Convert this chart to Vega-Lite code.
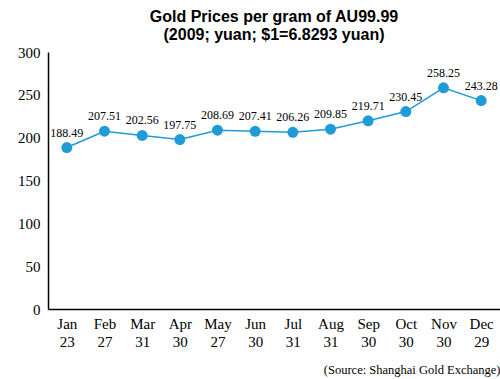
{
  "$schema": "https://vega.github.io/schema/vega-lite/v6.json",
  "width": 452,
  "height": 257,
  "autosize": {"type": "none"},
  "padding": {"left": 48, "top": 52, "right": 0, "bottom": 70},
  "background": "white",
  "title": {
    "text": ["Gold Prices per gram of AU99.99", "(2009; yuan; $1=6.8293 yuan)"],
    "font": "Liberation Sans",
    "fontSize": 16,
    "fontWeight": "bold",
    "color": "black",
    "lineHeight": 18,
    "anchor": "middle",
    "offset": 12,
    "baseline": "bottom",
    "dy": 26
  },
  "data": {
    "values": [
      {"date": "Jan|23", "price": 188.49},
      {"date": "Feb|27", "price": 207.51},
      {"date": "Mar|31", "price": 202.56},
      {"date": "Apr|30", "price": 197.75},
      {"date": "May|27", "price": 208.69},
      {"date": "Jun|30", "price": 207.41},
      {"date": "Jul|31", "price": 206.26},
      {"date": "Aug|31", "price": 209.85},
      {"date": "Sep|30", "price": 219.71},
      {"date": "Oct|30", "price": 230.45},
      {"date": "Nov|30", "price": 258.25},
      {"date": "Dec|29", "price": 243.28}
    ]
  },
  "encoding": {
    "x": {
      "field": "date",
      "type": "ordinal",
      "sort": null,
      "scale": {"type": "point", "padding": 0.5},
      "axis": {
        "title": "(Source: Shanghai Gold Exchange)",
        "titleFont": "Liberation Serif",
        "titleFontSize": 12.5,
        "titleFontWeight": "normal",
        "titleColor": "black",
        "titleAnchor": "end",
        "titleAlign": "right",
        "titlePadding": 14,
        "labelExpr": "split(datum.label, '|')",
        "labelFont": "Liberation Serif",
        "labelFontSize": 15,
        "labelLineHeight": 18,
        "labelColor": "black",
        "labelPadding": 7,
        "labelAngle": 0,
        "ticks": false,
        "domainColor": "black",
        "domainWidth": 1.5,
        "grid": false
      }
    },
    "y": {
      "field": "price",
      "type": "quantitative",
      "scale": {"domain": [0, 300]},
      "axis": {
        "title": null,
        "values": [0, 50, 100, 150, 200, 250, 300],
        "labelFont": "Liberation Serif",
        "labelFontSize": 15,
        "labelColor": "black",
        "labelPadding": 8,
        "ticks": false,
        "domainColor": "black",
        "domainWidth": 1.5,
        "grid": false
      }
    }
  },
  "layer": [
    {"mark": {"type": "line", "color": "#1f9bd7", "strokeWidth": 1.5}},
    {"mark": {"type": "circle", "color": "#1f9bd7", "size": 120, "opacity": 1}},
    {
      "mark": {"type": "text", "font": "Liberation Serif", "fontSize": 12, "color": "black", "dy": -15},
      "encoding": {"text": {"field": "price", "type": "quantitative", "format": ".2f"}}
    }
  ],
  "config": {"view": {"stroke": null}}
}
